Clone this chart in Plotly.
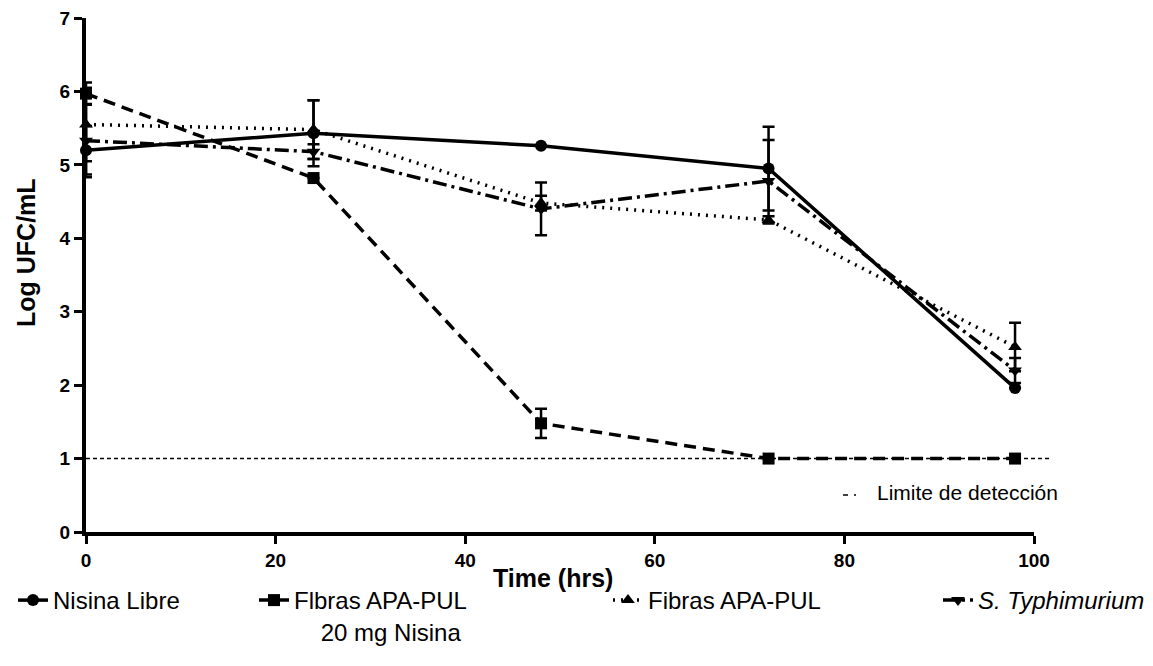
import plotly.graph_objects as go

# ---- data ----
TIME = [0, 24, 48, 72, 98]
nisina_libre = [5.20, 5.43, 5.26, 4.95, 1.96]
nisina_libre_err = [0.33, 0.45, 0.0, 0.57, 0.0]
fibras_20mg = [5.97, 4.82, 1.48, 1.00, 1.00]
fibras_20mg_err = [0.15, 0.0, 0.20, 0.0, 0.0]
fibras = [5.55, 5.48, 4.48, 4.25, 2.52]
fibras_err = [0.50, 0.40, 0.10, 0.05, 0.33]
s_typh = [5.33, 5.18, 4.40, 4.78, 2.20]
s_typh_err = [0.50, 0.10, 0.36, 0.56, 0.17]
LIMIT = 1.0
X_TICKS = [0, 20, 40, 60, 80, 100]
Y_TICKS = [0, 1, 2, 3, 4, 5, 6, 7]
XMAX, YMAX = 100, 7

FONT = "Liberation Sans, Arial, sans-serif"
series = [
    ("Nisina Libre", nisina_libre, nisina_libre_err, "circle", "solid", "legend"),
    ("Flbras APA-PUL<br>\u00a0\u00a0\u00a0\u00a020 mg Nisina", fibras_20mg, fibras_20mg_err, "square", "12px,7px", "legend2"),
    ("Fibras APA-PUL", fibras, fibras_err, "triangle-up", "2px,6px", "legend3"),
    ("<i>S. Typhimurium</i>", s_typh, s_typh_err, "triangle-down", "14px,5px,3px,5px", "legend4"),
]

fig = go.Figure()
for name, ys, err, sym, dash, lg in series:
    fig.add_trace(go.Scatter(
        x=TIME, y=ys, name=name, mode="lines+markers",
        line=dict(color="black", width=3.5, dash=dash),
        marker=dict(symbol=sym, size=12, color="black"),
        error_y=dict(type="data", array=err, visible=True, color="black",
                     thickness=2.5, width=6),
        cliponaxis=False, legend=lg,
    ))

L, R, T, B = 86, 119, 18, 134
W, H = 1153, 666
PW, PH = W - L - R, H - T - B

def px(xpix):
    return (xpix - L) / PW

def py(ypix):
    return (H - B - ypix) / PH

legend_common = dict(orientation="h", xanchor="left", yanchor="top",
                     font=dict(family=FONT, size=24, color="black"),
                     bgcolor="rgba(0,0,0,0)", valign="top", traceorder="normal")
fig.update_layout(
    legend=dict(x=px(13), y=py(578), **legend_common),
    legend2=dict(x=px(254), y=py(578), **legend_common),
    legend3=dict(x=px(608), y=py(578), **legend_common),
    legend4=dict(x=px(938), y=py(578), **legend_common),
)

# detection limit line (dotted), extends slightly beyond the axis end
fig.add_shape(type="line", xref="paper", yref="paper",
              x0=0, x1=1.019, y0=LIMIT / YMAX, y1=LIMIT / YMAX,
              line=dict(color="black", width=1.5, dash="4px,3px"))
fig.add_shape(type="line", xref="paper", yref="paper",
              x0=px(843), x1=px(848), y0=py(495), y1=py(495),
              line=dict(color="black", width=1.5))
fig.add_shape(type="line", xref="paper", yref="paper",
              x0=px(854), x1=px(856), y0=py(495), y1=py(495),
              line=dict(color="black", width=1.5))
fig.add_annotation(text="Limite de detección", xref="paper", yref="paper",
                   x=px(875), y=py(492), xanchor="left", yanchor="middle",
                   showarrow=False, font=dict(family=FONT, size=21, color="black"))

# axis titles
fig.add_annotation(text="<b>Time (hrs)</b>", xref="paper", yref="paper",
                   x=px(553), y=py(578), xanchor="center", yanchor="middle",
                   showarrow=False, font=dict(family=FONT, size=25, color="black"))
fig.add_annotation(text="<b>Log UFC/mL</b>", xref="paper", yref="paper",
                   x=px(26), y=py(252), xanchor="center", yanchor="middle",
                   textangle=-90, showarrow=False,
                   font=dict(family=FONT, size=25, color="black"))

axis_common = dict(showgrid=False, zeroline=False, showline=True, linecolor="black",
                   linewidth=4, ticks="outside", ticklen=8, tickwidth=3,
                   tickcolor="black",
                   tickfont=dict(family=FONT, size=19, color="black", weight="bold"))
fig.update_xaxes(range=[0, XMAX], tickvals=X_TICKS, **axis_common)
fig.update_yaxes(range=[0, YMAX], tickvals=Y_TICKS, **axis_common)

fig.update_layout(
    width=W, height=H,
    margin=dict(l=L, r=R, t=T, b=B, autoexpand=False),
    plot_bgcolor="white", paper_bgcolor="white",
    font=dict(family=FONT, color="black"),
    showlegend=True,
)

fig.write_html("out.html")
